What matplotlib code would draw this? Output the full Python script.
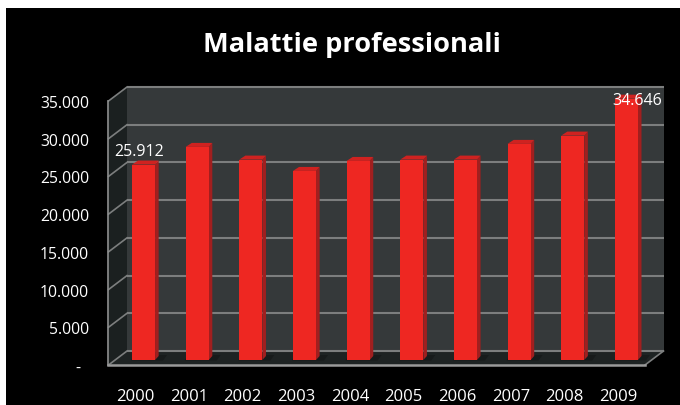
import matplotlib
matplotlib.use('Agg')
import matplotlib.pyplot as plt
from matplotlib.patches import Polygon, Rectangle
from matplotlib.transforms import IdentityTransform

plt.rcParams['font.family'] = ['Open Sans', 'DejaVu Sans']

years = ['2000', '2001', '2002', '2003', '2004', '2005', '2006', '2007', '2008', '2009']
cases = [25912, 28250, 26570, 25065, 26390, 26570, 26570, 28650, 29750, 34646]
y_ticks = [0, 5000, 10000, 15000, 20000, 25000, 30000, 35000]
y_labels = ['-  ', '5.000', '10.000', '15.000', '20.000', '25.000', '30.000', '35.000']

W, H = 680, 406
GRID = '#7c7e7e'
WALL = '#35393a'
SIDE = '#1b2020'
FLOOR = '#1e2323'

fig = plt.figure(figsize=(W / 100, H / 100), dpi=100, facecolor='white')
fig.patches.append(Rectangle((5.5 / W, 0), 1, (H - 9) / H, transform=fig.transFigure,
                             facecolor='black', edgecolor='none', zorder=-10))
ax = fig.add_axes([108.5 / W, (H - 366) / H, 536.5 / W, 264 / H])
ax.set_xlim(-0.5, 9.5)
ax.set_ylim(0, 35000)
ax.patch.set_visible(False)
for name in ['top', 'right']:
    ax.spines[name].set_visible(False)
ax.spines['left'].set_color('#8f9191')
ax.spines['left'].set_linewidth(1.2)
ax.spines['bottom'].set_color('#9a9a9a')
ax.spines['bottom'].set_linewidth(1.8)
ax.spines['left'].set_zorder(5)
ax.spines['bottom'].set_zorder(5)

ax.set_xticks(range(len(years)), years)
ax.set_yticks(y_ticks, y_labels)
ax.tick_params(axis='x', length=0, pad=16.5, labelsize=12, labelcolor='white')
ax.tick_params(axis='y', length=0, pad=14, labelsize=11.3, labelcolor='white')


def to_px(x, y):
    return ax.transData.transform((x, y))


def face(points, color, z):
    ax.add_patch(Polygon(points, closed=True, transform=IdentityTransform(), facecolor=color,
                         edgecolor='none', zorder=z, clip_on=False))


# depth of the 3d box, display pixels (y goes up)
dx, dy = 18.5, 14

x0, x1 = ax.get_xlim()
y0, y1 = ax.get_ylim()
bl = to_px(x0, y0)
br = to_px(x1, y0)
tl = to_px(x0, y1)
tr = to_px(x1, y1)
back = [dx, dy]

face([bl + back, br + back, tr + back, tl + back], WALL, 1)
face([bl, bl + back, tl + back, tl], SIDE, 1.1)
face([bl, br, br + back, bl + back], FLOOR, 1.2)

for t in y_ticks:
    p = to_px(x0, t)
    q = to_px(x1, t)
    ax.plot([p[0] + dx, q[0] + dx], [p[1] + dy, q[1] + dy], color=GRID, lw=1.5,
            transform=IdentityTransform(), zorder=1.5, clip_on=False, solid_capstyle='butt')
    ax.plot([p[0], p[0] + dx], [p[1], p[1] + dy], color=GRID, lw=1.2,
            transform=IdentityTransform(), zorder=1.5, clip_on=False)
ax.plot([br[0], br[0] + dx], [br[1], br[1] + dy], color=GRID, lw=1.2,
        transform=IdentityTransform(), zorder=1.5, clip_on=False)

# bars sit in the middle of the box depth
bar_w = 0.43
off = [8.2, 5]
cap = [3.6, 4]
for i, v in enumerate(cases):
    a = to_px(i - bar_w / 2, 0) + off
    b = to_px(i + bar_w / 2, 0) + off
    c = to_px(i + bar_w / 2, v) + off
    d = to_px(i - bar_w / 2, v) + off
    face([[a[0] - 1, a[1] - 0.5], [b[0] + 8, b[1] - 0.5], [b[0] + 12, b[1] + 5], [a[0] + 2, a[1] + 5]], '#171b1b', 1.6)
    face([b, b + cap, c + cap, c], '#a11f1f', 2.1)
    face([d, c, c + cap, d + cap + [2.5, 0]], '#cf2220', 2.1)
    face([a, b, c, d], '#ee2722', 2.2)

ax.annotate('25.912', xy=(0, cases[0]), xytext=(3.5, 18.5), textcoords='offset pixels', ha='center',
            va='center', color='white', fontsize=11.5, zorder=6, annotation_clip=False)
ax.annotate('34.646', xy=(9, cases[9]), xytext=(19.5, 4), textcoords='offset pixels', ha='center',
            va='center', color='white', fontsize=11.5, zorder=6, annotation_clip=False)

fig.text(352 / W, (H - 44.5) / H, 'Malattie professionali', ha='center', va='center',
         color='white', fontsize=19.6, fontweight='bold')

fig.savefig('out.png', dpi=100, facecolor='white')
